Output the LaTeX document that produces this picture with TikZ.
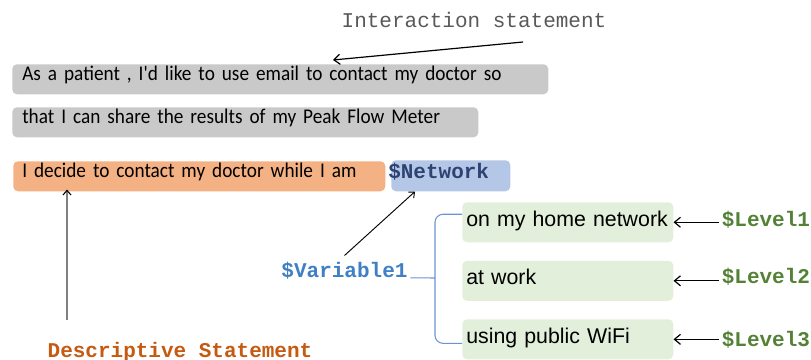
\documentclass[tikz,border=0pt]{standalone}
\usepackage{fontspec}
\usepackage{tikz}
\usetikzlibrary{positioning,arrows.meta}
\newfontfamily\calibfont[FakeStretch=0.92]{Carlito}
\newfontfamily\arialfont{Liberation Sans}
\newfontfamily\courfont{Liberation Mono}
\definecolor{storygray}{HTML}{C9C9C9}
\definecolor{decideorange}{HTML}{F4B183}
\definecolor{netblue}{HTML}{B4C7E7}
\definecolor{levelgreen}{HTML}{E2EFDA}
\definecolor{intergray}{HTML}{595959}
\definecolor{descorange}{HTML}{C55A11}
\definecolor{netnavy}{HTML}{2E4372}
\definecolor{varblue}{HTML}{3F7FC4}
\definecolor{lvlgreen}{HTML}{538135}
\definecolor{bracecol}{HTML}{6D92D6}

\begin{document}
\begin{tikzpicture}[x=0.75pt,y=-0.75pt,
    storybox/.style={rounded corners=3.5pt, anchor=north west, align=left,
      inner xsep=7.5pt, inner ysep=0pt, text height=12pt, text depth=10.5pt,
      font=\calibfont\fontsize{15.7pt}{18pt}\selectfont},
    levelbox/.style={fill=levelgreen, rounded corners=3.5pt, anchor=north west, align=left,
      text width=152.25pt, inner xsep=3pt, inner ysep=0pt, text height=18pt, text depth=12pt,
      font=\arialfont\fontsize{16pt}{18pt}\selectfont},
    mono/.style={inner sep=2pt, font=\courfont\bfseries\fontsize{15.75pt}{18pt}\selectfont},
    brace/.style={draw=bracecol, line width=0.8pt},
    barb/.style={-{Straight Barb[length=4.5pt,width=7.5pt]}},
    levelarrow/.style={barb, line width=0.9pt}]
  \useasboundingbox (0,0) rectangle (811,360);

  % Nodes
  \node[storybox, fill=storygray, text width=387pt] (story1) at (12,64)
    {As a patient , I'd like to use email to contact my doctor so};
  \node[storybox, fill=storygray, text width=334.5pt] (story2) at (12,107)
    {that I can share the results of my Peak Flow Meter};
  \node[storybox, fill=decideorange, text width=265.5pt, inner xsep=6.75pt] (decide) at (13,161)
    {I decide to contact my doctor while I am};
  \node[mono, fill=netblue, rounded corners=3.5pt, anchor=north west, align=left,
    text width=93.75pt, inner xsep=-2.25pt, inner ysep=0pt, text height=13.5pt, text depth=9.75pt,
    text=netnavy] (netbox) at (391,160) {\$Network};

  \node[font=\courfont\fontsize{15.75pt}{18pt}\selectfont, text=intergray] (inter) at (474,20) {Interaction statement};
  \node[mono, text=descorange] (desc) at (180,352) {Descriptive Statement};
  \node[mono, text=varblue] (var) at (344.5,271) {\$Variable1};

  \node[levelbox] (home) at (462,202) {on my home network};
  \node[levelbox, below=13.5pt of home] (work) {at work};
  \node[levelbox, below=13.5pt of work] (wifi) {using public WiFi};

  \node[mono, text=lvlgreen, right=34pt of home, yshift=2pt] (lvl1) {\$Level1};
  \node[mono, text=lvlgreen, right=34pt of work, yshift=3pt] (lvl2) {\$Level2};
  \node[mono, text=lvlgreen, right=34pt of wifi] (lvl3) {\$Level3};

  \coordinate (itail) at (523,42);
  \coordinate (dtail) at (67,320);
  \coordinate (cusp) at (435,278);

  % Arrows
  \draw[barb, line width=0.9pt] (itail) -- ([xshift=240.75pt,yshift=3pt]story1.north west);
  \draw[-{Straight Barb[length=3.5pt,width=6pt,black]}, draw=black!50, line width=0.8pt] (dtail) -- ([xshift=40.5pt,yshift=1.5pt]decide.south west);
  \draw[-{Straight Barb[length=3.5pt,width=6pt]}, line width=0.7pt] ([yshift=3pt]var.north) -- ([xshift=18pt]netbox.south west);
  \draw[levelarrow] (home.east -| lvl1.west) -- (home.east);
  \draw[levelarrow] (work.east -| lvl2.west) -- (work.east);
  \draw[levelarrow] (wifi.east -| lvl3.west) -- (wifi.east);

  % Brace
  \draw[brace, rounded corners=6pt] ([yshift=6pt]home.west) -| (cusp);
  \draw[brace, rounded corners=6pt] ([yshift=-3pt]wifi.west) -| (cusp);
  \draw[brace] (var.base east) -- (cusp);
\end{tikzpicture}
\end{document}
